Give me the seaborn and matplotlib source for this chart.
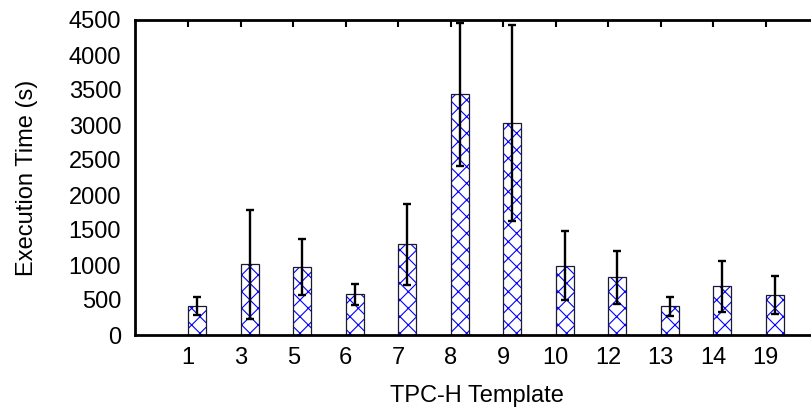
import numpy as np
import pandas as pd
import matplotlib
matplotlib.use("Agg")
import matplotlib.pyplot as plt
import matplotlib.colors as mcolors
import seaborn as sns

templates = ["1", "3", "5", "6", "7", "8", "9", "10", "12", "13", "14", "19"]
exec_time = [410, 1010, 967, 581, 1295, 3438, 3024, 990, 824, 410, 695, 567]
exec_err = [131, 781, 402, 150, 583, 1019, 1402, 497, 378, 136, 366, 269]
y_ticks = [0, 500, 1000, 1500, 2000, 2500, 3000, 3500, 4000, 4500]

sns.set_theme(style="white")
plt.rcParams["font.family"] = ["Liberation Sans", "DejaVu Sans"]
plt.rcParams["hatch.color"] = "#0000ff"
plt.rcParams["hatch.linewidth"] = 0.8
plt.rcParams["text.color"] = "black"
plt.rcParams["axes.labelcolor"] = "black"

df = pd.DataFrame({"template": templates, "time": exec_time, "err": exec_err})

fig = plt.figure(figsize=(8.11, 4.09), dpi=100)
ax = fig.add_axes([135 / 811, 1 - 335 / 409, (818.3 - 135) / 811, (335 - 20) / 409])

bw = 0.343
sns.barplot(data=df, x="template", y="time", order=templates, ax=ax,
            width=bw, color="white", edgecolor="#1a1a33", linewidth=0.9,
            errorbar=None, saturation=1)
blue = mcolors.to_rgba("#0000ff")
for p in ax.patches:
    p.set_hatch("xx")
    p.set_facecolor("white")
    try:
        p.set_hatchcolor(blue)
    except AttributeError:
        p._hatch_color = blue

centers = [p.get_x() + p.get_width() / 2 for p in ax.patches]
ax.errorbar(centers, df["time"], yerr=df["err"], fmt="none", ecolor="black",
            elinewidth=1.7, capsize=3, capthick=1.7, zorder=5)

off = bw / 2
ax.set_xticks(np.arange(len(templates)) - off)
ax.set_xticklabels(templates)
ax.set_xlim(-off - 1.015, 12 - off)
ax.set_ylim(0, 4500)
ax.set_yticks(y_ticks)

fs = 17
ax.tick_params(axis="both", which="major", direction="in", length=5, width=1.5,
               top=True, right=True, labelsize=fs, colors="black")
ax.tick_params(axis="x", pad=9)
ax.tick_params(axis="y", pad=10)
for s in ax.spines.values():
    s.set_visible(True)
    s.set_linewidth(2.0)
    s.set_color("black")

ax.set_xlabel("TPC-H Template", fontsize=fs, labelpad=11, color="black")
ax.set_ylabel("Execution Time (s)", fontsize=fs, labelpad=22, color="black")

fig.savefig("out.png", dpi=100)
